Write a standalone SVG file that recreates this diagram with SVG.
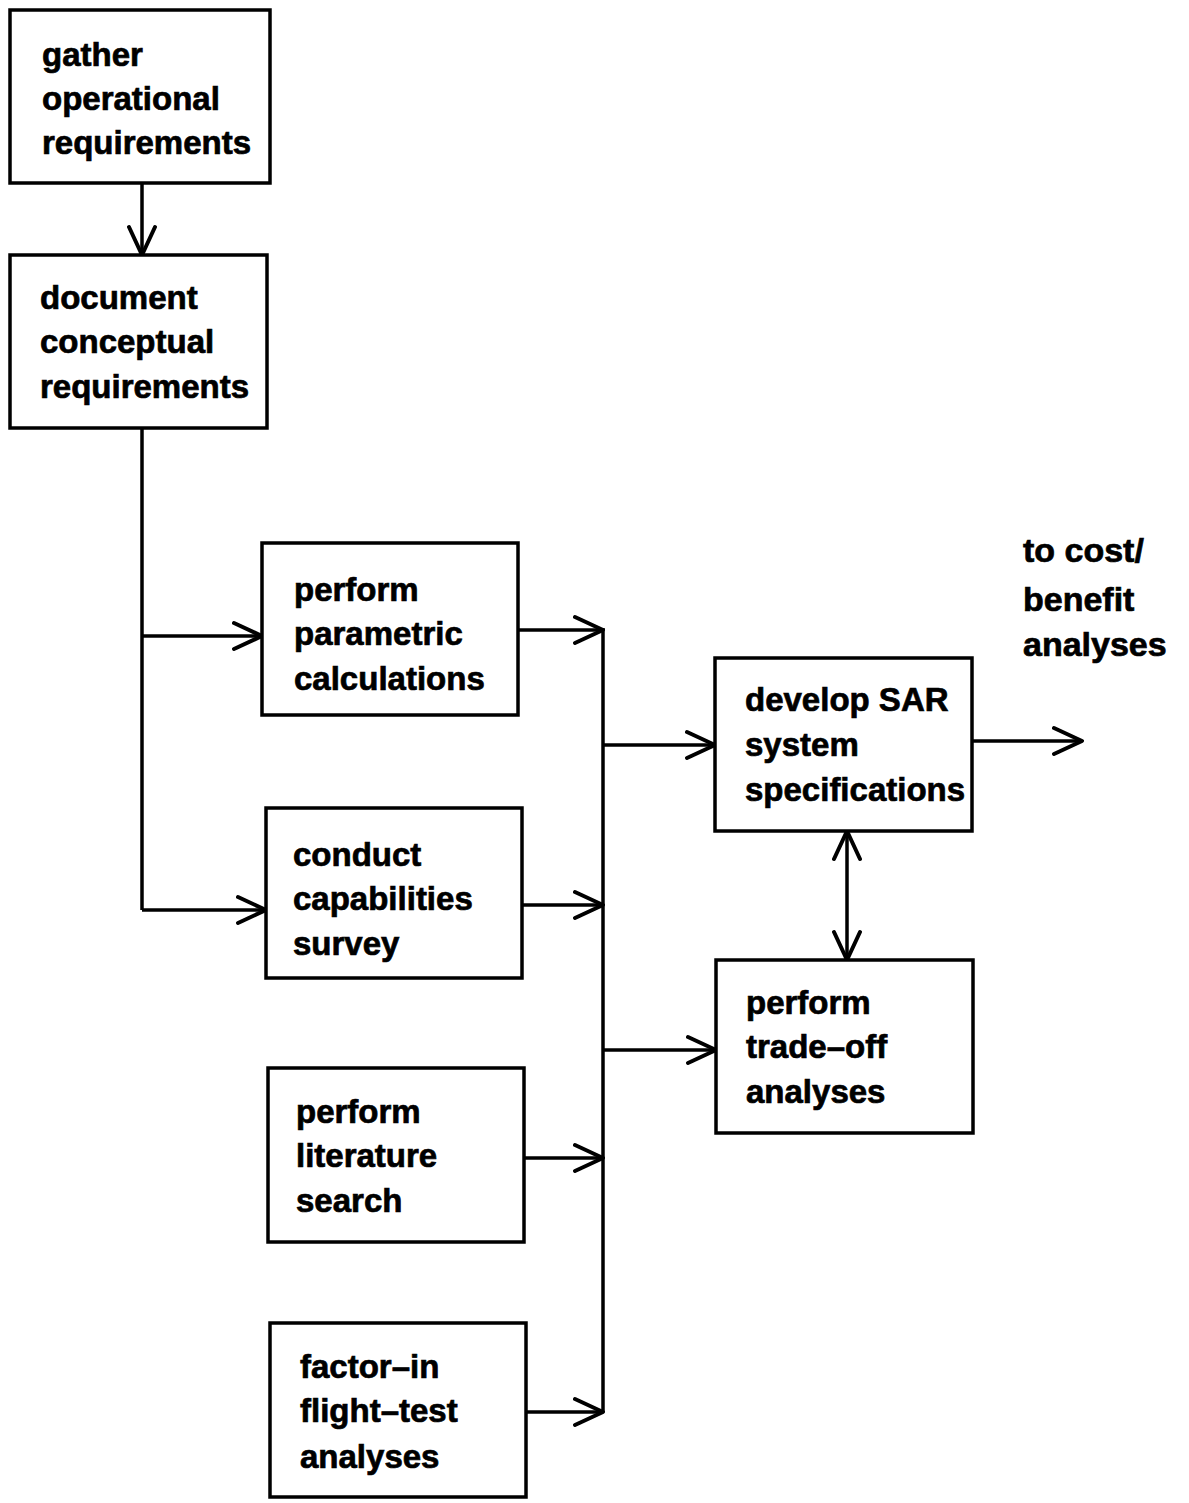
<svg xmlns="http://www.w3.org/2000/svg" width="1189" height="1503" viewBox="0 0 1189 1503">
  <defs>
    <marker id="arrow" viewBox="-32 -16 34 32" refX="0" refY="0" markerWidth="34" markerHeight="32" markerUnits="userSpaceOnUse" orient="auto-start-reverse">
      <path d="M -28 -13 L 0 0 L -28 13" fill="none" stroke="#000" stroke-width="4" stroke-linecap="round" stroke-linejoin="round"/>
    </marker>
  </defs>
  <style>
    .box { fill: #fff; stroke: #000; stroke-width: 3.5; }
    .lbl { font-family: "Liberation Sans", Arial, sans-serif; font-weight: bold; font-size: 33px; fill: #000; stroke: #000; stroke-width: 0.7; }
    .wide { font-size: 34px; }
    .wire { fill: none; stroke: #000; stroke-width: 3.5; }
    .arr { marker-end: url(#arrow); }
  </style>
  <rect width="1189" height="1503" fill="#fff"/>

  <g id="connectors">
    <path class="wire arr" d="M 142 183 L 142 255"/>
    <path class="wire" d="M 142 428 L 142 910"/>
    <path class="wire arr" d="M 142 636 L 262 636"/>
    <path class="wire arr" d="M 142 910 L 266 910"/>
    <path class="wire" d="M 603 628 L 603 1412"/>
    <path class="wire arr" d="M 518 630 L 603 630"/>
    <path class="wire arr" d="M 522 905 L 603 905"/>
    <path class="wire arr" d="M 524 1158 L 603 1158"/>
    <path class="wire arr" d="M 526 1412 L 603 1412"/>
    <path class="wire arr" d="M 603 745 L 715 745"/>
    <path class="wire arr" d="M 603 1050 L 716 1050"/>
    <path class="wire" d="M 847 831 L 847 960" marker-start="url(#arrow)" marker-end="url(#arrow)"/>
    <path class="wire arr" d="M 972 741 L 1082 741"/>
  </g>

  <g id="gather">
    <rect class="box" x="10" y="10" width="260" height="173"/>
    <text class="lbl" x="42" y="66">gather</text>
    <text class="lbl" x="42" y="110">operational</text>
    <text class="lbl" x="42" y="154">requirements</text>
  </g>

  <g id="document">
    <rect class="box" x="10" y="255" width="257" height="173"/>
    <text class="lbl" x="40" y="309">document</text>
    <text class="lbl" x="40" y="353">conceptual</text>
    <text class="lbl" x="40" y="398">requirements</text>
  </g>

  <g id="parametric">
    <rect class="box" x="262" y="543" width="256" height="172"/>
    <text class="lbl" x="294" y="601">perform</text>
    <text class="lbl" x="294" y="645">parametric</text>
    <text class="lbl" x="294" y="690">calculations</text>
  </g>

  <g id="capabilities">
    <rect class="box" x="266" y="808" width="256" height="170"/>
    <text class="lbl" x="293" y="866">conduct</text>
    <text class="lbl" x="293" y="910">capabilities</text>
    <text class="lbl" x="293" y="955">survey</text>
  </g>

  <g id="literature">
    <rect class="box" x="268" y="1068" width="256" height="174"/>
    <text class="lbl" x="296" y="1123">perform</text>
    <text class="lbl" x="296" y="1167">literature</text>
    <text class="lbl" x="296" y="1212">search</text>
  </g>

  <g id="flighttest">
    <rect class="box" x="270" y="1323" width="256" height="174"/>
    <text class="lbl" x="300" y="1378">factor–in</text>
    <text class="lbl" x="300" y="1422">flight–test</text>
    <text class="lbl" x="300" y="1468">analyses</text>
  </g>

  <g id="specifications">
    <rect class="box" x="715" y="658" width="257" height="173"/>
    <text class="lbl" x="745" y="711">develop SAR</text>
    <text class="lbl" x="745" y="756">system</text>
    <text class="lbl" x="745" y="801">specifications</text>
  </g>

  <g id="tradeoff">
    <rect class="box" x="716" y="960" width="257" height="173"/>
    <text class="lbl" x="746" y="1014">perform</text>
    <text class="lbl" x="746" y="1058">trade–off</text>
    <text class="lbl" x="746" y="1103">analyses</text>
  </g>

  <g id="costbenefit">
    <text class="lbl wide" x="1023" y="562">to cost/</text>
    <text class="lbl wide" x="1023" y="611">benefit</text>
    <text class="lbl wide" x="1023" y="656">analyses</text>
  </g>
</svg>
